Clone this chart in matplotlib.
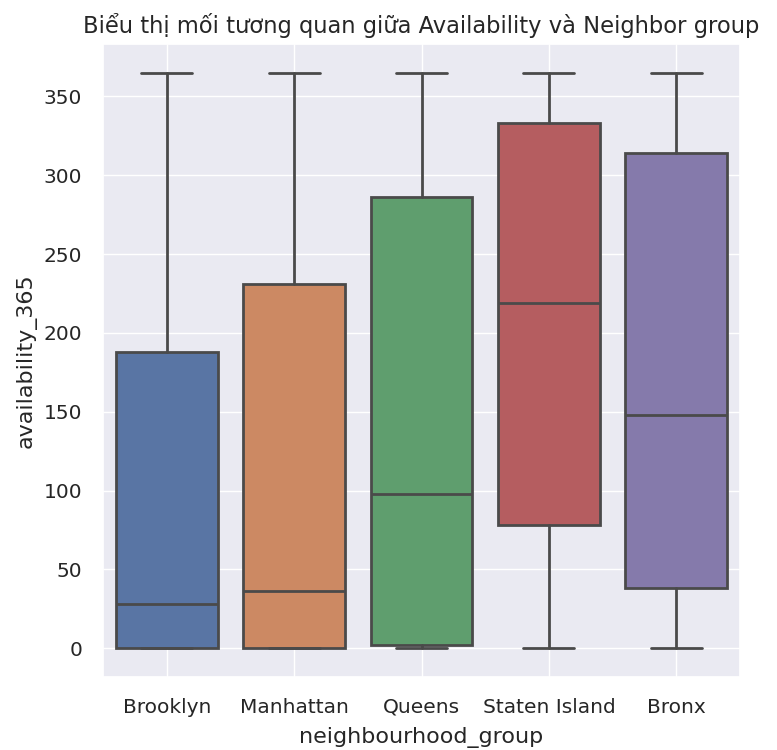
import numpy as np
import matplotlib
matplotlib.use("Agg")
import matplotlib.pyplot as plt
import seaborn as sns

sns.set_theme(style="darkgrid")
plt.rcParams['font.family'] = ['DejaVu Sans']

groups = ["Brooklyn", "Manhattan", "Queens", "Staten Island", "Bronx"]
q1 = [0, 0, 2, 78, 38]
med = [28, 36, 98, 219, 148]
q3 = [188, 231, 286, 333, 314]
whislo = [0, 0, 0, 0, 0]
whishi = [365, 365, 365, 365, 365]

stats = []
for i in range(len(groups)):
    stats.append(dict(label=groups[i], q1=q1[i], med=med[i], q3=q3[i],
                      whislo=whislo[i], whishi=whishi[i], fliers=[]))

pal = [sns.desaturate(c, 0.75) for c in sns.color_palette("deep", 5)]
gray = "#4a4a4a"
lw = 2.0

fig = plt.figure(figsize=(7.77, 7.5), dpi=100)
ax = fig.add_axes([0.1326, 0.0973, 0.8198, 0.844])
bp = ax.bxp(stats, positions=range(len(groups)), widths=0.8, patch_artist=True,
            boxprops=dict(edgecolor=gray, linewidth=lw),
            medianprops=dict(color=gray, linewidth=lw),
            whiskerprops=dict(color=gray, linewidth=lw),
            capprops=dict(color=gray, linewidth=lw),
            showfliers=False)
for patch, c in zip(bp['boxes'], pal):
    patch.set_facecolor(c)

ax.set_xlim(-0.5, 4.5)
ax.set_ylim(-18.25, 383.25)
ax.set_yticks([0, 50, 100, 150, 200, 250, 300, 350])
ax.tick_params(axis='x', labelsize=14.5, length=0, pad=15)
ax.tick_params(axis='y', labelsize=14.5, length=0, pad=15)
ax.set_xlabel("neighbourhood_group", fontsize=16, labelpad=7)
ax.set_ylabel("availability_365", fontsize=16, labelpad=5)
ax.set_title("Biểu thị mối tương quan giữa Availability và Neighbor group", fontsize=16.3, pad=8)

fig.savefig("out.png", dpi=100)
